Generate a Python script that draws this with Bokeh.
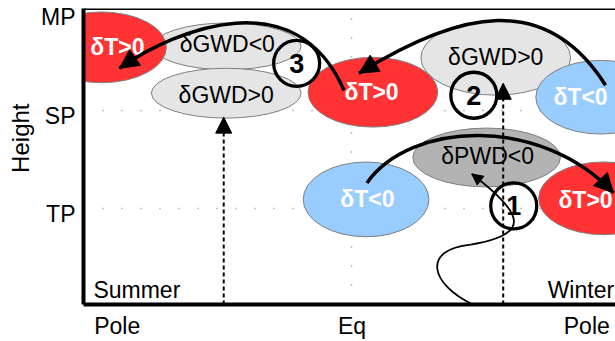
import numpy as np
from bokeh.plotting import figure
from bokeh.models import (Range1d, LinearAxis, FixedTicker, Grid, Span, Title,
                          Arrow, NormalHead)
from bokeh.core.properties import value
from bokeh.embed import file_html
from bokeh.resources import INLINE

FONT = "Liberation Sans"

# ---- axes / ticks -------------------------------------------------------
lat_ticks = [-90, 0, 90]
lat_labels = ["Pole", "Eq", "Pole"]
height_ticks = [1, 2, 3]
height_labels = ["TP", "SP", "MP"]
x_start, x_end = -102.9, 101.0
y_start, y_end = 0.0254, 3.0406
label_shift = 0.0508

# ---- anomaly ellipses (latitude, height, width, height-extent) -----------
ell_lat = [-47.8, -48.2, 55.1, -96.0, 8.0, 95.3, 51.6, 5.4, 96.4]
ell_hgt = [2.655, 2.178, 2.538, 2.645, 2.188, 2.137, 1.523, 1.096, 1.107]
ell_w = [56.6, 57.4, 57.4, 49.7, 49.7, 49.7, 56.6, 48.2, 49.7]
ell_h = [0.477, 0.508, 0.761, 0.721, 0.711, 0.751, 0.599, 0.761, 0.741]
ell_kind = ["gwd", "gwd", "gwd", "warm", "warm", "cold", "pwd", "cold", "warm"]

dT_lat = [-89.9, 7.5, 87.6, 5.9, 89.5]
dT_hgt = [2.645, 2.188, 2.137, 1.102, 1.091]
dT_text = ["δT>0", "δT>0", "δT<0", "δT<0", "δT>0"]

wd_lat = [-47.8, -48.2, 55.1, 52.0]
wd_hgt = [2.675, 2.157, 2.543, 1.538]
wd_text = ["δGWD<0", "δGWD>0", "δGWD>0", "δPWD<0"]

# ---- numbered steps ---------------------------------------------------------
step_lat = [-21.2, 46.7, 62.0]
step_hgt = [2.482, 2.157, 1.030]
step_text = ["3", "2", "1"]

# ---- thick circulation arcs (cubic bezier) ----------------------------------
arc_x0 = [5.74, 97.17, -3.06]
arc_y0 = [1.264, 2.259, 2.208]
arc_cx0 = [22.57, 74.22, -21.42]
arc_cy0 = [1.893, 3.223, 3.325]
arc_cx1 = [72.30, 40.93, -66.95]
arc_cy1 = [1.954, 3.010, 2.838]
arc_x1 = [100.23, 2.68, -89.14]
arc_y1 = [1.162, 2.381, 2.431]

# ---- planetary wave path (two bezier pieces) --------------------------------
wave_x0 = [46.29, 45.52]
wave_y0 = [0.025, 0.635]
wave_cx0 = [30.22, 68.48]
wave_cy0 = [0.228, 0.736]
wave_cx1 = [26.40, 66.56]
wave_cy1 = [0.584, 0.939]
wave_x1 = [45.52, 45.91]
wave_y1 = [0.635, 1.355]

# ---- gravity wave arrows -------------------------------------------------------
gw_lat = [-49.16, 57.96]
gw_top = [1.934, 2.279]

season_text = ["Summer", "Winter"]
season_lat = [-99.1, 75.0]
season_hgt = [0.173, 0.173]

kind_color = {"warm": "#ff3333", "cold": "#99ccff", "gwd": "#e5e5e5", "pwd": "#b3b3b3"}

p = figure(width=615, height=341, output_backend="svg", toolbar_location=None,
           x_range=Range1d(x_start, x_end), y_range=Range1d(y_start, y_end),
           x_axis_location=None, y_axis_location=None,
           min_border_left=82, min_border_right=0, min_border_top=8,
           min_border_bottom=36)
p.outline_line_color = None
p.grid.visible = False
p.extra_y_ranges = {"lab": Range1d(y_start + label_shift, y_end + label_shift)}

def style_axis(ax):
    ax.axis_line_width = 4
    ax.axis_line_color = "black"
    ax.major_tick_line_color = None
    ax.minor_tick_line_color = None
    ax.major_tick_out = 0
    ax.major_tick_in = 0
    ax.major_label_text_font = FONT
    ax.major_label_text_font_size = "23px"
    ax.major_label_text_color = "black"
    ax.major_label_standoff = 8

xa = LinearAxis(ticker=FixedTicker(ticks=lat_ticks),
                major_label_overrides={t: l for t, l in zip(lat_ticks, lat_labels)})
style_axis(xa)
p.add_layout(xa, "below")
ya = LinearAxis(y_range_name="lab", ticker=FixedTicker(ticks=height_ticks),
                major_label_overrides={t: l for t, l in zip(height_ticks, height_labels)})
style_axis(ya)
p.add_layout(ya, "left")

p.add_layout(Title(text="Height", align="right", offset=95, text_font=FONT,
                   text_font_size="24px", text_font_style="normal",
                   text_color="black", standoff=8), "left")

p.add_layout(Grid(dimension=0, ticker=FixedTicker(ticks=[lat_ticks[1]]),
                  grid_line_color="#888888", grid_line_dash="1 18", grid_line_width=1.5))
p.add_layout(Grid(dimension=1, ticker=FixedTicker(ticks=height_ticks[:2]),
                  grid_line_color="#888888", grid_line_dash="1 18", grid_line_width=1.5))
p.add_layout(Span(location=y_end, dimension="width", line_color="black", line_width=3))

p.ellipse(x=ell_lat, y=ell_hgt, width=ell_w, height=ell_h,
          fill_color=[kind_color[k] for k in ell_kind],
          line_color="#7f7f7f", line_width=1)

p.text(x=dT_lat, y=dT_hgt, text=dT_text, text_color="white", text_font=value(FONT),
       text_font_style="bold", text_font_size="23px", text_align="center",
       text_baseline="middle")
p.text(x=wd_lat, y=wd_hgt, text=wd_text, text_color="black", text_font=value(FONT),
       text_font_size="23px", text_align="center", text_baseline="middle")

p.text(x=season_lat, y=season_hgt, text=season_text, text_color="black",
       text_font=value(FONT), text_font_size="23px", text_align="left",
       text_baseline="middle")

# planetary wave
p.bezier(x0=wave_x0, y0=wave_y0, x1=wave_x1, y1=wave_y1, cx0=wave_cx0, cy0=wave_cy0,
         cx1=wave_cx1, cy1=wave_cy1, line_color="black", line_width=1.8)
f = 0.25
p.add_layout(Arrow(x_start=wave_x1[-1] - f * (wave_x1[-1] - wave_cx1[-1]),
                   y_start=wave_y1[-1] - f * (wave_y1[-1] - wave_cy1[-1]),
                   x_end=wave_x1[-1], y_end=wave_y1[-1], line_alpha=0,
                   end=NormalHead(size=11, fill_color="black", line_color="black")))

# gravity waves
for lat, top in zip(gw_lat, gw_top):
    p.add_layout(Arrow(x_start=lat, y_start=y_start, x_end=lat, y_end=top,
                       line_color="black", line_width=2, line_dash="4 3",
                       end=NormalHead(size=16, fill_color="black", line_color="black")))

# circulation arcs
p.bezier(x0=arc_x0, y0=arc_y0, x1=arc_x1, y1=arc_y1, cx0=arc_cx0, cy0=arc_cy0,
         cx1=arc_cx1, cy1=arc_cy1, line_color="black", line_width=3.5)
for i in range(len(arc_x1)):
    p.add_layout(Arrow(x_start=arc_x1[i] - 0.2 * (arc_x1[i] - arc_cx1[i]),
                       y_start=arc_y1[i] - 0.2 * (arc_y1[i] - arc_cy1[i]),
                       x_end=arc_x1[i], y_end=arc_y1[i], line_alpha=0,
                       end=NormalHead(size=19, fill_color="black", line_color="black")))

# numbered circles
p.scatter(x=step_lat, y=step_hgt, marker="circle", size=46, fill_color=None,
          line_color="black", line_width=3.3)
p.text(x=step_lat, y=step_hgt, text=step_text, text_color="black", text_font=value(FONT),
       text_font_style="bold", text_font_size="27px", text_align="center",
       text_baseline="middle")

open("out.html", "w").write(file_html(p, INLINE))
